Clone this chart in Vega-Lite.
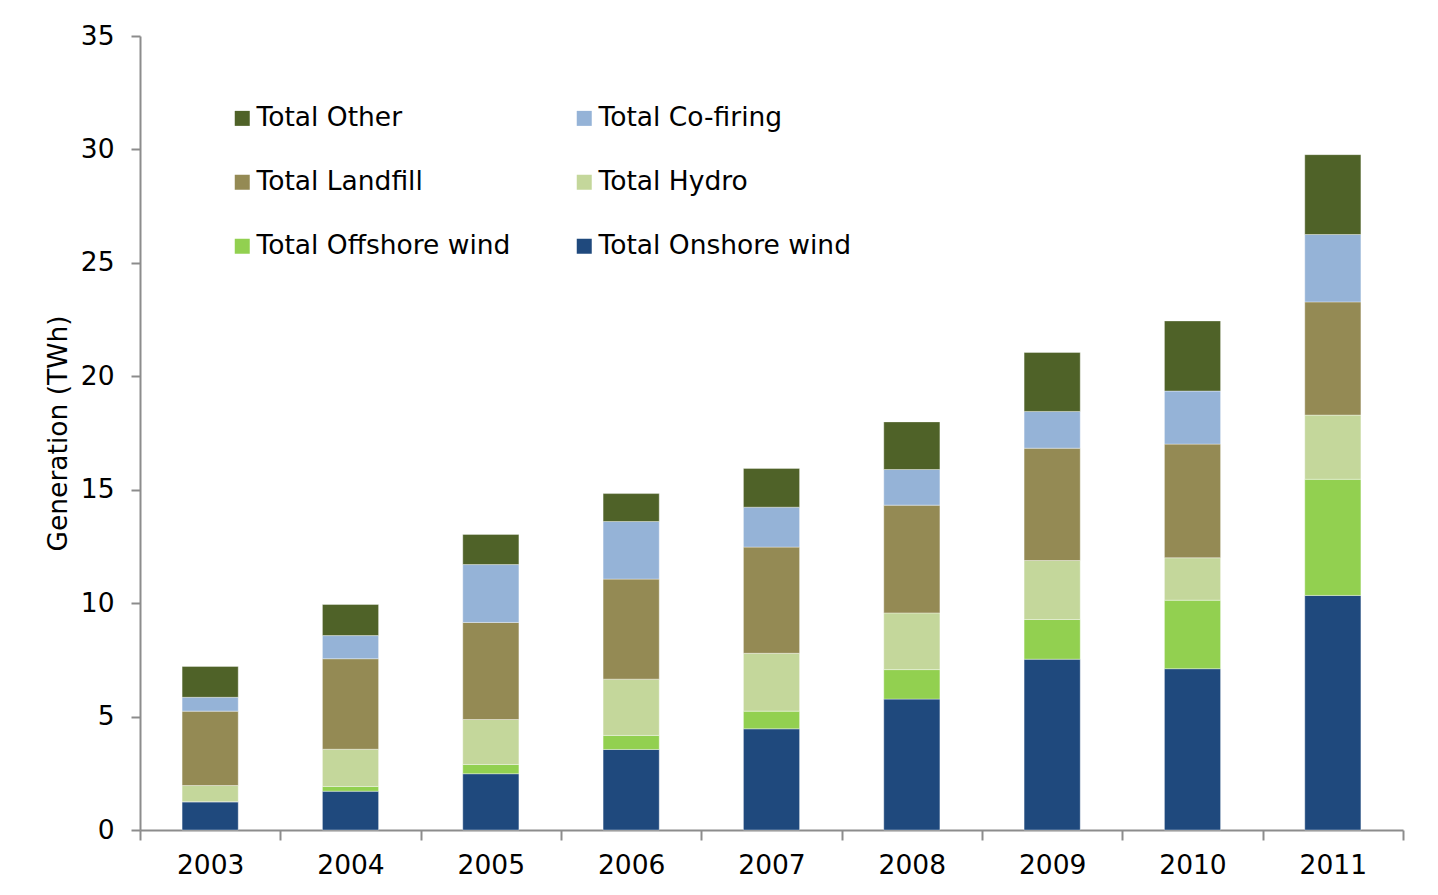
{
  "$schema": "https://vega.github.io/schema/vega-lite/v6.json",
  "width": 1263,
  "height": 794,
  "autosize": {"type": "none"},
  "padding": {"left": 140, "top": 36, "right": 35, "bottom": 65},
  "background": "white",
  "config": {"view": {"stroke": null}, "font": "DejaVu Sans"},
  "data": {
    "values": [
      {"year": "2003", "source": "Total Onshore wind", "order": 1, "value": 1.24},
      {"year": "2003", "source": "Total Offshore wind", "order": 2, "value": 0.01},
      {"year": "2003", "source": "Total Hydro", "order": 3, "value": 0.71},
      {"year": "2003", "source": "Total Landfill", "order": 4, "value": 3.28},
      {"year": "2003", "source": "Total Co-firing", "order": 5, "value": 0.61},
      {"year": "2003", "source": "Total Other", "order": 6, "value": 1.36},
      {"year": "2004", "source": "Total Onshore wind", "order": 1, "value": 1.71},
      {"year": "2004", "source": "Total Offshore wind", "order": 2, "value": 0.21},
      {"year": "2004", "source": "Total Hydro", "order": 3, "value": 1.64},
      {"year": "2004", "source": "Total Landfill", "order": 4, "value": 3.99},
      {"year": "2004", "source": "Total Co-firing", "order": 5, "value": 1.02},
      {"year": "2004", "source": "Total Other", "order": 6, "value": 1.37},
      {"year": "2005", "source": "Total Onshore wind", "order": 1, "value": 2.48},
      {"year": "2005", "source": "Total Offshore wind", "order": 2, "value": 0.41},
      {"year": "2005", "source": "Total Hydro", "order": 3, "value": 1.98},
      {"year": "2005", "source": "Total Landfill", "order": 4, "value": 4.28},
      {"year": "2005", "source": "Total Co-firing", "order": 5, "value": 2.55},
      {"year": "2005", "source": "Total Other", "order": 6, "value": 1.33},
      {"year": "2006", "source": "Total Onshore wind", "order": 1, "value": 3.55},
      {"year": "2006", "source": "Total Offshore wind", "order": 2, "value": 0.62},
      {"year": "2006", "source": "Total Hydro", "order": 3, "value": 2.48},
      {"year": "2006", "source": "Total Landfill", "order": 4, "value": 4.41},
      {"year": "2006", "source": "Total Co-firing", "order": 5, "value": 2.54},
      {"year": "2006", "source": "Total Other", "order": 6, "value": 1.23},
      {"year": "2007", "source": "Total Onshore wind", "order": 1, "value": 4.46},
      {"year": "2007", "source": "Total Offshore wind", "order": 2, "value": 0.78},
      {"year": "2007", "source": "Total Hydro", "order": 3, "value": 2.55},
      {"year": "2007", "source": "Total Landfill", "order": 4, "value": 4.68},
      {"year": "2007", "source": "Total Co-firing", "order": 5, "value": 1.76},
      {"year": "2007", "source": "Total Other", "order": 6, "value": 1.71},
      {"year": "2008", "source": "Total Onshore wind", "order": 1, "value": 5.77},
      {"year": "2008", "source": "Total Offshore wind", "order": 2, "value": 1.30},
      {"year": "2008", "source": "Total Hydro", "order": 3, "value": 2.50},
      {"year": "2008", "source": "Total Landfill", "order": 4, "value": 4.75},
      {"year": "2008", "source": "Total Co-firing", "order": 5, "value": 1.57},
      {"year": "2008", "source": "Total Other", "order": 6, "value": 2.10},
      {"year": "2009", "source": "Total Onshore wind", "order": 1, "value": 7.53},
      {"year": "2009", "source": "Total Offshore wind", "order": 2, "value": 1.75},
      {"year": "2009", "source": "Total Hydro", "order": 3, "value": 2.60},
      {"year": "2009", "source": "Total Landfill", "order": 4, "value": 4.95},
      {"year": "2009", "source": "Total Co-firing", "order": 5, "value": 1.62},
      {"year": "2009", "source": "Total Other", "order": 6, "value": 2.60},
      {"year": "2010", "source": "Total Onshore wind", "order": 1, "value": 7.11},
      {"year": "2010", "source": "Total Offshore wind", "order": 2, "value": 3.02},
      {"year": "2010", "source": "Total Hydro", "order": 3, "value": 1.87},
      {"year": "2010", "source": "Total Landfill", "order": 4, "value": 5.01},
      {"year": "2010", "source": "Total Co-firing", "order": 5, "value": 2.34},
      {"year": "2010", "source": "Total Other", "order": 6, "value": 3.09},
      {"year": "2011", "source": "Total Onshore wind", "order": 1, "value": 10.34},
      {"year": "2011", "source": "Total Offshore wind", "order": 2, "value": 5.12},
      {"year": "2011", "source": "Total Hydro", "order": 3, "value": 2.83},
      {"year": "2011", "source": "Total Landfill", "order": 4, "value": 4.99},
      {"year": "2011", "source": "Total Co-firing", "order": 5, "value": 2.97},
      {"year": "2011", "source": "Total Other", "order": 6, "value": 3.52}
    ]
  },
  "mark": {"type": "bar", "width": {"band": 0.4}, "stroke": "#ffffff", "strokeWidth": 0.6, "strokeOpacity": 0.6},
  "encoding": {
    "x": {
      "field": "year",
      "type": "ordinal",
      "title": null,
      "scale": {"paddingInner": 0, "paddingOuter": 0},
      "axis": {
        "labelAngle": 0,
        "labelFontSize": 26.5,
        "labelColor": "#000000",
        "labelPadding": 12,
        "domainColor": "#8c8c8c",
        "domainWidth": 2,
        "tickColor": "#8c8c8c",
        "tickWidth": 2,
        "tickSize": 10,
        "tickBand": "extent"
      }
    },
    "y": {
      "field": "value",
      "type": "quantitative",
      "stack": "zero",
      "title": "Generation (TWh)",
      "scale": {"domain": [0, 35], "nice": false},
      "axis": {
        "values": [0, 5, 10, 15, 20, 25, 30, 35],
        "grid": false,
        "labelFontSize": 26.5,
        "labelColor": "#000000",
        "labelPadding": 17,
        "domainColor": "#8c8c8c",
        "domainWidth": 2,
        "tickColor": "#8c8c8c",
        "tickWidth": 2,
        "tickSize": 9,
        "titleFontSize": 26.5,
        "titleFontWeight": "normal",
        "titleColor": "#000000",
        "titlePadding": 8
      }
    },
    "color": {
      "field": "source",
      "type": "nominal",
      "scale": {
        "domain": ["Total Other", "Total Co-firing", "Total Landfill", "Total Hydro", "Total Offshore wind", "Total Onshore wind"],
        "range": ["#4f6228", "#95b3d7", "#948a54", "#c4d79b", "#92d050", "#1f497d"]
      },
      "legend": {
        "title": null,
        "orient": "none",
        "direction": "horizontal",
        "legendX": 89,
        "legendY": 69,
        "columns": 2,
        "padding": 0,
        "symbolType": "square",
        "symbolSize": 225,
        "symbolStrokeWidth": 0,
        "symbolOpacity": 1,
        "labelFontSize": 26.5,
        "labelColor": "#000000",
        "labelOffset": 1,
        "labelLimit": 400,
        "rowPadding": 37,
        "columnPadding": 60
      }
    },
    "order": {"field": "order", "type": "quantitative"}
  }
}
